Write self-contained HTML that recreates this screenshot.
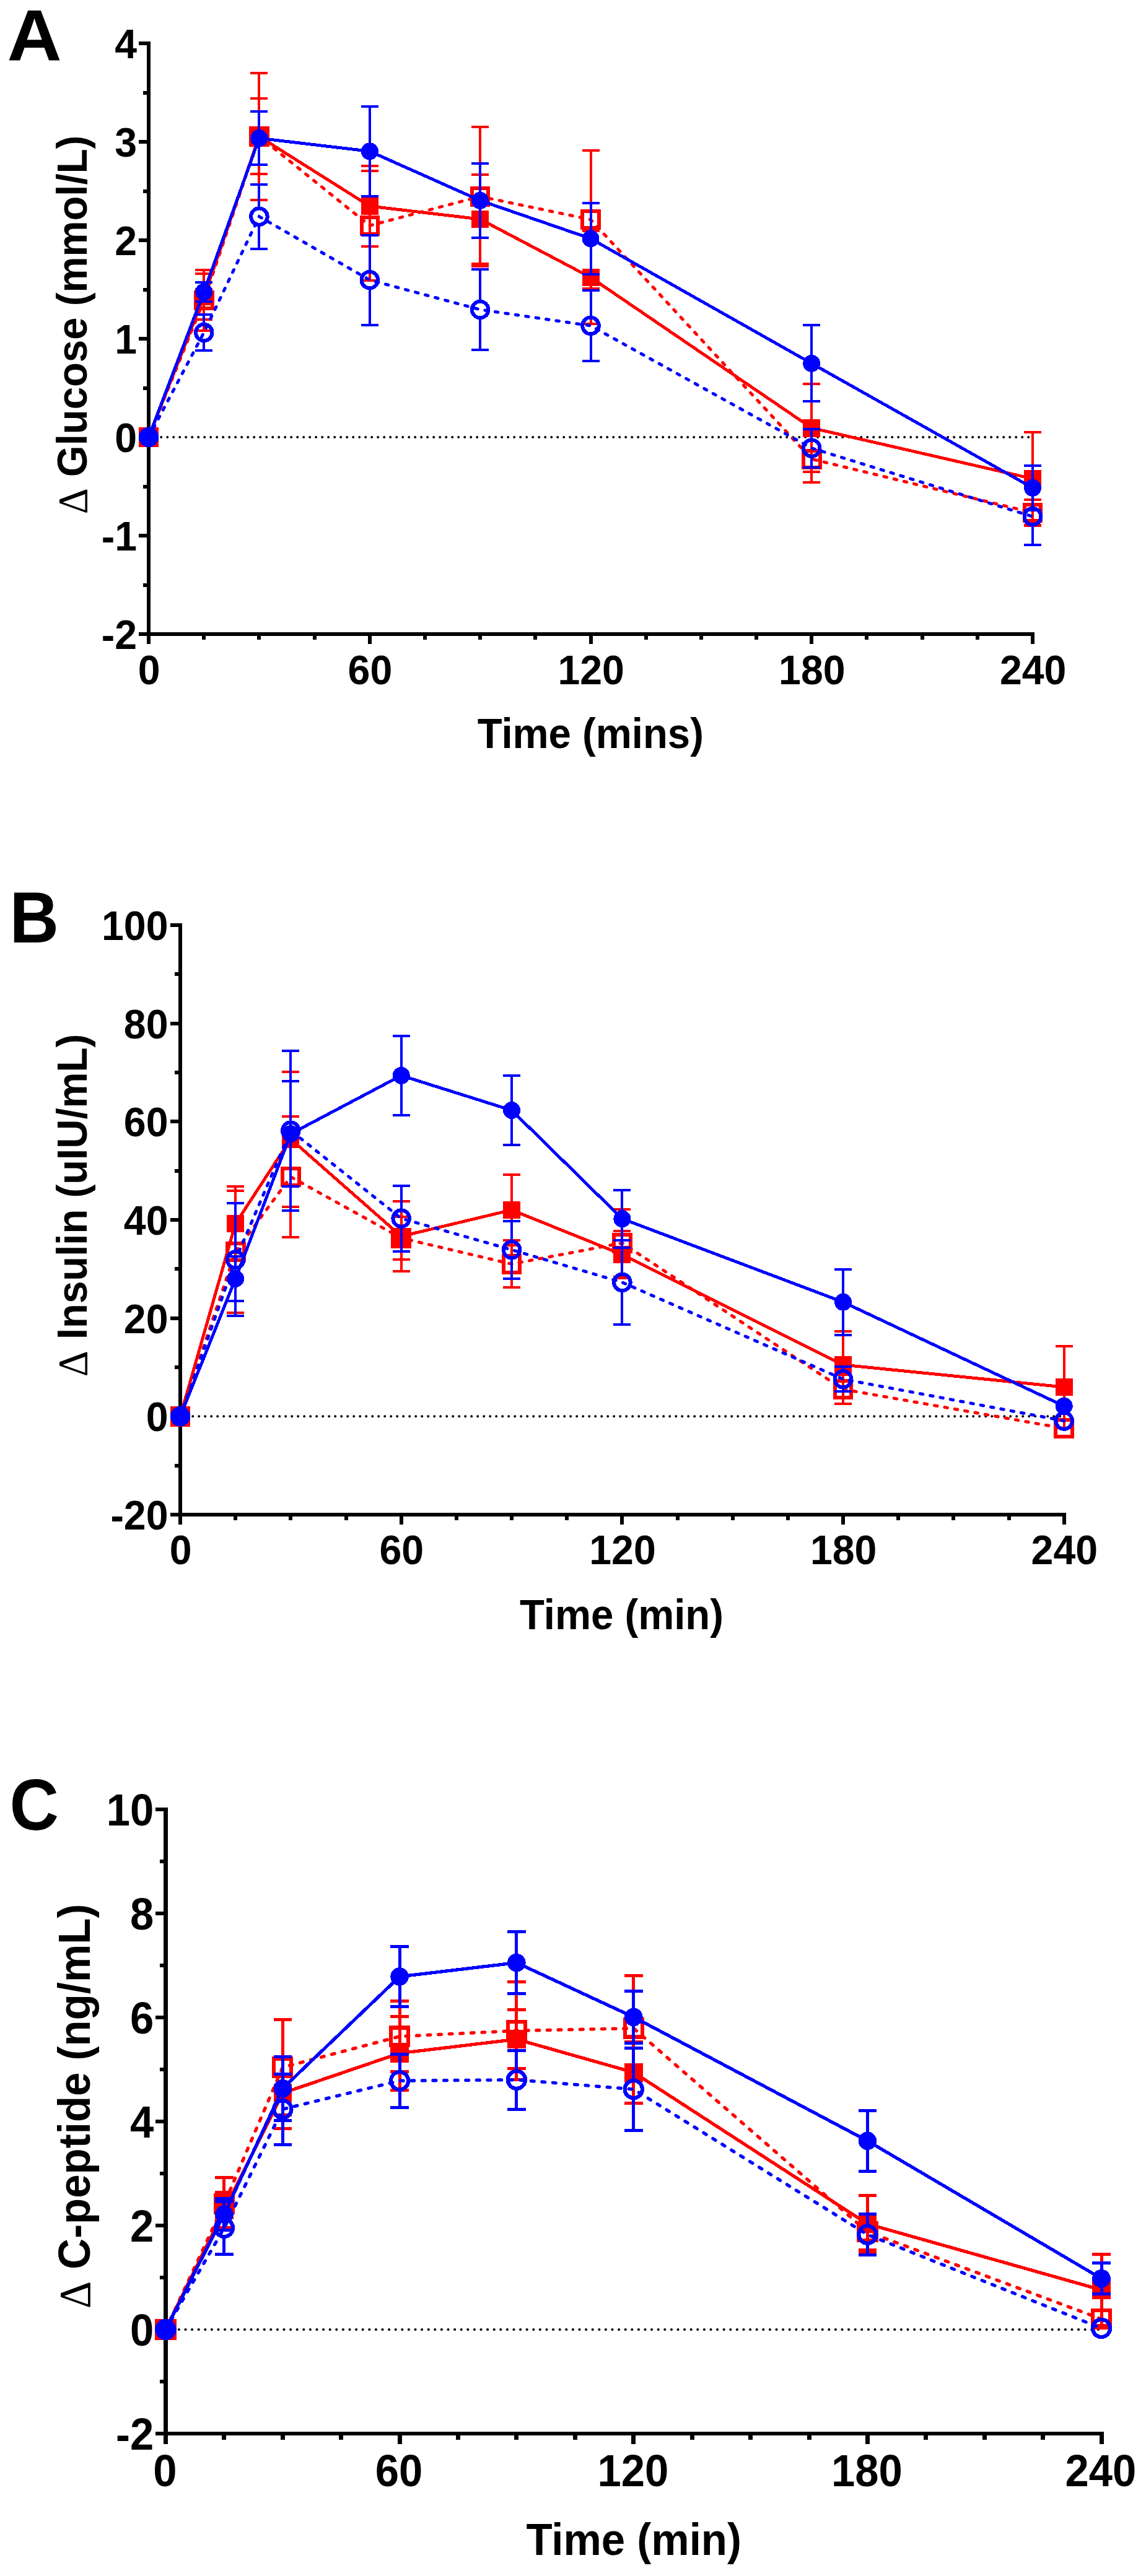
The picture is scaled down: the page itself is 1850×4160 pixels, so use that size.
<!DOCTYPE html>
<html lang="en">
<head>
<meta charset="utf-8">
<title>Glucose, insulin and C-peptide responses</title>
<style>
html,body{margin:0;padding:0;background:#fff;}
body{width:1850px;height:4160px;overflow:hidden;}
svg{display:block;}
.b{font-family:'Liberation Sans', Arial, Helvetica, sans-serif;font-weight:bold;fill:#000;}
.dl{font-family:'Liberation Serif', 'DejaVu Serif', serif;font-weight:normal;}
.ln{shape-rendering:crispEdges;}
.sm{shape-rendering:geometricPrecision;}
</style>
</head>
<body>
<svg width="1850" height="4160" viewBox="0 0 1850 4160" shape-rendering="crispEdges">
<rect width="1850" height="4160" fill="#fff"/>

<g id="panel-A">
<text class="b" font-size="110" transform="translate(11.4 98) scale(1.11 1.06)">A</text>
<line x1="240.2" y1="706" x2="1667" y2="706" stroke="#000" stroke-width="4" stroke-linecap="round" stroke-dasharray="0 10" class="sm"/>
<g stroke="#000" fill="none" stroke-linecap="butt">
<path stroke-width="6" d="M240 67V1040M329.2 1024V1033M418.4 1024V1033M507.6 1024V1033M596.8 1024V1040M685.9 1024V1033M775.1 1024V1033M864.3 1024V1033M953.5 1024V1040M1042.7 1024V1033M1131.9 1024V1033M1221.1 1024V1033M1310.2 1024V1040M1399.4 1024V1033M1488.6 1024V1033M1577.8 1024V1033M1667 1024V1040"/>
<path stroke-width="6" d="M224 1024H1670M224 865H240M224 706H240M224 547H240M224 388H240M224 229H240M224 70H240M231 944.5H240M231 785.5H240M231 626.5H240M231 467.5H240M231 308.5H240M231 149.5H240"/>
</g>
<g class="b" font-size="64.4">
<text text-anchor="end" transform="translate(221 1048) scale(1 1.04)">-2</text>
<text text-anchor="end" transform="translate(221 889) scale(1 1.04)">-1</text>
<text text-anchor="end" transform="translate(221 730) scale(1 1.04)">0</text>
<text text-anchor="end" transform="translate(221 571) scale(1 1.04)">1</text>
<text text-anchor="end" transform="translate(221 412) scale(1 1.04)">2</text>
<text text-anchor="end" transform="translate(221 253) scale(1 1.04)">3</text>
<text text-anchor="end" transform="translate(221 94) scale(1 1.04)">4</text>
<text text-anchor="middle" transform="translate(240.6 1104.5) scale(1 1.04)">0</text>
<text text-anchor="middle" transform="translate(597.4 1104.5) scale(1 1.04)">60</text>
<text text-anchor="middle" transform="translate(954.1 1104.5) scale(1 1.04)">120</text>
<text text-anchor="middle" transform="translate(1310.8 1104.5) scale(1 1.04)">180</text>
<text text-anchor="middle" transform="translate(1667.6 1104.5) scale(1 1.04)">240</text>
</g>
<text class="b" font-size="65.3" text-anchor="middle" transform="translate(953.3 1207.8) scale(1 1.04)">Time (mins)</text>
<text class="b" font-size="65.3" text-anchor="middle" transform="translate(139.6 524.5) rotate(-90) scale(1 1.04)"><tspan class="dl">Δ</tspan> Glucose (mmol/L)</text>
<g id="A-R1" stroke="#ff0000" fill="none">
<path stroke-width="4" d="M329.2 442.3V515.7M315.2 442.3H343.2M315.2 515.7H343.2M418.4 159.4V281.4M404.4 159.4H432.4M404.4 281.4H432.4M596.8 268.1V397.6M582.8 268.1H610.8M582.8 397.6H610.8M775.1 281.6V426.4M761.1 281.6H789.1M761.1 426.4H789.1M953.5 373.2V522.6M939.5 373.2H967.5M939.5 522.6H967.5M1310.2 620.3V761.9M1296.2 620.3H1324.2M1296.2 761.9H1324.2M1667 698.4V847.8M1653 698.4H1681M1653 847.8H1681"/>
<polyline class="ln" stroke-width="5" points="240,706 329.2,479 418.4,220.4 596.8,332.9 775.1,354 953.5,447.9 1310.2,691.1 1667,773.1"/>
<rect x="226" y="692" width="28" height="28" fill="#ff0000" stroke="none"/>
<rect x="315.2" y="465" width="28" height="28" fill="#ff0000" stroke="none"/>
<rect x="404.4" y="206.4" width="28" height="28" fill="#ff0000" stroke="none"/>
<rect x="582.8" y="318.9" width="28" height="28" fill="#ff0000" stroke="none"/>
<rect x="761.1" y="340" width="28" height="28" fill="#ff0000" stroke="none"/>
<rect x="939.5" y="433.9" width="28" height="28" fill="#ff0000" stroke="none"/>
<rect x="1296.2" y="677.1" width="28" height="28" fill="#ff0000" stroke="none"/>
<rect x="1653" y="759.1" width="28" height="28" fill="#ff0000" stroke="none"/>
</g>
<g id="A-R2" stroke="#ff0000" fill="none">
<path stroke-width="4" d="M329.2 435.9V471.7M329.2 498.3V534.1M315.2 435.9H343.2M315.2 534.1H343.2M418.4 117.9V207.1M418.4 233.7V322.9M404.4 117.9H432.4M404.4 322.9H432.4M596.8 275.6V351M596.8 377.6V453.1M582.8 275.6H610.8M582.8 453.1H610.8M775.1 205.1V304M775.1 330.6V429.5M761.1 205.1H789.1M761.1 429.5H789.1M953.5 242.9V341.3M953.5 367.9V466.3M939.5 242.9H967.5M939.5 466.3H967.5M1310.2 704.1V728M1310.2 754.6V778.5M1296.2 704.1H1324.2M1296.2 778.5H1324.2M1667 806.9V814.5M1667 841V848.6M1653 806.9H1681M1653 848.6H1681"/>
<polyline class="sm" stroke-width="5" stroke-linecap="round" stroke-dasharray="4.6 12" points="240,706 329.2,485 418.4,220.4 596.8,364.3 775.1,317.3 953.5,354.6 1310.2,741.3 1667,827.8"/>
<rect x="226.7" y="692.7" width="26.6" height="26.6" stroke-width="6"/>
<rect x="315.9" y="471.7" width="26.6" height="26.6" stroke-width="6"/>
<rect x="405.1" y="207.1" width="26.6" height="26.6" stroke-width="6"/>
<rect x="583.5" y="351" width="26.6" height="26.6" stroke-width="6"/>
<rect x="761.8" y="304" width="26.6" height="26.6" stroke-width="6"/>
<rect x="940.2" y="341.3" width="26.6" height="26.6" stroke-width="6"/>
<rect x="1297" y="728" width="26.6" height="26.6" stroke-width="6"/>
<rect x="1653.7" y="814.5" width="26.6" height="26.6" stroke-width="6"/>
</g>
<g id="A-B1" stroke="#0000ff" fill="none">
<path stroke-width="4" d="M329.2 455.9V486.9M315.2 455.9H343.2M315.2 486.9H343.2M418.4 180V266.4M404.4 180H432.4M404.4 266.4H432.4M596.8 171.9V316.7M582.8 171.9H610.8M582.8 316.7H610.8M775.1 264V383.6M761.1 264H789.1M761.1 383.6H789.1M953.5 327.5V443.1M939.5 327.5H967.5M939.5 443.1H967.5M1310.2 525.4V648.4M1296.2 525.4H1324.2M1296.2 648.4H1324.2M1667 751.9V823.6M1653 751.9H1681M1653 823.6H1681"/>
<polyline class="ln" stroke-width="5" points="240,706 329.2,471.4 418.4,223.2 596.8,244.3 775.1,323.8 953.5,385.3 1310.2,586.9 1667,787.8"/>
<circle class="ln" cx="240" cy="706" r="14" fill="#0000ff" stroke="none"/>
<circle class="ln" cx="329.2" cy="471.4" r="14" fill="#0000ff" stroke="none"/>
<circle class="ln" cx="418.4" cy="223.2" r="14" fill="#0000ff" stroke="none"/>
<circle class="ln" cx="596.8" cy="244.3" r="14" fill="#0000ff" stroke="none"/>
<circle class="ln" cx="775.1" cy="323.8" r="14" fill="#0000ff" stroke="none"/>
<circle class="ln" cx="953.5" cy="385.3" r="14" fill="#0000ff" stroke="none"/>
<circle class="ln" cx="1310.2" cy="586.9" r="14" fill="#0000ff" stroke="none"/>
<circle class="ln" cx="1667" cy="787.8" r="14" fill="#0000ff" stroke="none"/>
</g>
<g id="A-B2" stroke="#0000ff" fill="none">
<path stroke-width="4" d="M329.2 507.6V523.7M329.2 550.3V566.4M315.2 507.6H343.2M315.2 566.4H343.2M418.4 297.9V336.4M418.4 363V401.5M404.4 297.9H432.4M404.4 401.5H432.4M596.8 379.7V438.8M596.8 465.4V524.5M582.8 379.7H610.8M582.8 524.5H610.8M775.1 435.2V486.7M775.1 513.3V564.8M761.1 435.2H789.1M761.1 564.8H789.1M953.5 468.9V512.7M953.5 539.3V583.1M939.5 468.9H967.5M939.5 583.1H967.5M1310.2 692.8V710.4M1310.2 737V754.7M1296.2 692.8H1324.2M1296.2 754.7H1324.2M1667 788.5V820.9M1667 847.5V879.9M1653 788.5H1681M1653 879.9H1681"/>
<polyline class="sm" stroke-width="5" stroke-linecap="round" stroke-dasharray="4.6 12" points="240,706 329.2,537 418.4,349.7 596.8,452.1 775.1,500 953.5,526 1310.2,723.7 1667,834.2"/>
<circle class="ln" cx="240" cy="706" r="13.3" stroke-width="6"/>
<circle class="ln" cx="329.2" cy="537" r="13.3" stroke-width="6"/>
<circle class="ln" cx="418.4" cy="349.7" r="13.3" stroke-width="6"/>
<circle class="ln" cx="596.8" cy="452.1" r="13.3" stroke-width="6"/>
<circle class="ln" cx="775.1" cy="500" r="13.3" stroke-width="6"/>
<circle class="ln" cx="953.5" cy="526" r="13.3" stroke-width="6"/>
<circle class="ln" cx="1310.2" cy="723.7" r="13.3" stroke-width="6"/>
<circle class="ln" cx="1667" cy="834.2" r="13.3" stroke-width="6"/>
</g>
</g>
<g id="panel-B">
<text class="b" font-size="110" transform="translate(15.5 1521.6) scale(1 1.06)">B</text>
<line x1="291.2" y1="2287.3" x2="1717.7" y2="2287.3" stroke="#000" stroke-width="4" stroke-linecap="round" stroke-dasharray="0 10" class="sm"/>
<g stroke="#000" fill="none" stroke-linecap="butt">
<path stroke-width="6" d="M291 1490.8V2462M380.2 2446V2455M469.3 2446V2455M558.5 2446V2455M647.7 2446V2462M736.8 2446V2455M826 2446V2455M915.2 2446V2455M1004.4 2446V2462M1093.5 2446V2455M1182.7 2446V2455M1271.9 2446V2455M1361 2446V2462M1450.2 2446V2455M1539.4 2446V2455M1628.5 2446V2455M1717.7 2446V2462"/>
<path stroke-width="6" d="M275 2446H1720.7M275 2287.3H291M275 2128.6H291M275 1969.9H291M275 1811.2H291M275 1652.5H291M275 1493.8H291M282 2366.7H291M282 2208H291M282 2049.2H291M282 1890.6H291M282 1731.9H291M282 1573.2H291"/>
</g>
<g class="b" font-size="64.4">
<text text-anchor="end" transform="translate(271.5 2470) scale(1 1.04)">-20</text>
<text text-anchor="end" transform="translate(271.5 2311.3) scale(1 1.04)">0</text>
<text text-anchor="end" transform="translate(271.5 2152.6) scale(1 1.04)">20</text>
<text text-anchor="end" transform="translate(271.5 1993.9) scale(1 1.04)">40</text>
<text text-anchor="end" transform="translate(271.5 1835.2) scale(1 1.04)">60</text>
<text text-anchor="end" transform="translate(271.5 1676.5) scale(1 1.04)">80</text>
<text text-anchor="end" transform="translate(271.5 1517.8) scale(1 1.04)">100</text>
<text text-anchor="middle" transform="translate(291.6 2526.3) scale(1 1.04)">0</text>
<text text-anchor="middle" transform="translate(648.3 2526.3) scale(1 1.04)">60</text>
<text text-anchor="middle" transform="translate(1005 2526.3) scale(1 1.04)">120</text>
<text text-anchor="middle" transform="translate(1361.6 2526.3) scale(1 1.04)">180</text>
<text text-anchor="middle" transform="translate(1718.3 2526.3) scale(1 1.04)">240</text>
</g>
<text class="b" font-size="65.3" text-anchor="middle" transform="translate(1003.5 2630.7) scale(1 1.04)">Time (min)</text>
<text class="b" font-size="65.3" text-anchor="middle" transform="translate(140 1946.5) rotate(-90) scale(1 1.04)"><tspan class="dl">Δ</tspan> Insulin (uIU/mL)</text>
<g id="B-R1" stroke="#ff0000" fill="none">
<path stroke-width="4" d="M380.2 1915.9V2036.1M366.2 1915.9H394.2M366.2 2036.1H394.2M469.3 1730.5V1948.5M455.3 1730.5H483.3M455.3 1948.5H483.3M647.7 1940V2053M633.7 1940H661.7M633.7 2053H661.7M826 1897V2011M812 1897H840M812 2011H840M1004.4 1987.9V2063.9M990.4 1987.9H1018.4M990.4 2063.9H1018.4M1361 2150V2258.2M1347 2150H1375M1347 2258.2H1375M1717.7 2174V2306M1703.7 2174H1731.7M1703.7 2306H1731.7"/>
<polyline class="ln" stroke-width="5" points="291,2287.3 380.2,1976 469.3,1839.5 647.7,1996.5 826,1954 1004.4,2025.9 1361,2204.1 1717.7,2240"/>
<rect x="277" y="2273.3" width="28" height="28" fill="#ff0000" stroke="none"/>
<rect x="366.2" y="1962" width="28" height="28" fill="#ff0000" stroke="none"/>
<rect x="455.3" y="1825.5" width="28" height="28" fill="#ff0000" stroke="none"/>
<rect x="633.7" y="1982.5" width="28" height="28" fill="#ff0000" stroke="none"/>
<rect x="812" y="1940" width="28" height="28" fill="#ff0000" stroke="none"/>
<rect x="990.4" y="2011.9" width="28" height="28" fill="#ff0000" stroke="none"/>
<rect x="1347" y="2190.1" width="28" height="28" fill="#ff0000" stroke="none"/>
<rect x="1703.7" y="2226" width="28" height="28" fill="#ff0000" stroke="none"/>
</g>
<g id="B-R2" stroke="#ff0000" fill="none">
<path stroke-width="4" d="M380.2 1923V2008.1M380.2 2034.7V2119.8M366.2 1923H394.2M366.2 2119.8H394.2M469.3 1802.8V1887.2M469.3 1913.8V1998.2M455.3 1802.8H483.3M455.3 1998.2H483.3M647.7 1964.5V1986M647.7 2012.6V2034.1M633.7 1964.5H661.7M633.7 2034.1H661.7M826 2003.4V2028M826 2054.6V2079.2M812 2003.4H840M812 2079.2H840M1004.4 1952.9V1994M1004.4 2020.6V2061.7M990.4 1952.9H1018.4M990.4 2061.7H1018.4M1361 2220.3V2230.3M1361 2256.9V2266.9M1347 2220.3H1375M1347 2266.9H1375"/>
<polyline class="sm" stroke-width="5" stroke-linecap="round" stroke-dasharray="4.6 12" points="291,2287.3 380.2,2021.4 469.3,1900.5 647.7,1999.3 826,2041.3 1004.4,2007.3 1361,2243.6 1717.7,2306.7"/>
<rect x="277.7" y="2274" width="26.6" height="26.6" stroke-width="6"/>
<rect x="366.9" y="2008.1" width="26.6" height="26.6" stroke-width="6"/>
<rect x="456" y="1887.2" width="26.6" height="26.6" stroke-width="6"/>
<rect x="634.4" y="1986" width="26.6" height="26.6" stroke-width="6"/>
<rect x="812.7" y="2028" width="26.6" height="26.6" stroke-width="6"/>
<rect x="991.1" y="1994" width="26.6" height="26.6" stroke-width="6"/>
<rect x="1347.7" y="2230.3" width="26.6" height="26.6" stroke-width="6"/>
<rect x="1704.4" y="2293.4" width="26.6" height="26.6" stroke-width="6"/>
</g>
<g id="B-B1" stroke="#0000ff" fill="none">
<path stroke-width="4" d="M380.2 2029V2101M366.2 2029H394.2M366.2 2101H394.2M469.3 1745.8V1916.4M455.3 1745.8H483.3M455.3 1916.4H483.3M647.7 1672.9V1800.9M633.7 1672.9H661.7M633.7 1800.9H661.7M826 1737V1849M812 1737H840M812 1849H840M1004.4 1921.9V2014.5M990.4 1921.9H1018.4M990.4 2014.5H1018.4M1361 2049.6V2155.8M1347 2049.6H1375M1347 2155.8H1375"/>
<polyline class="ln" stroke-width="5" points="291,2287.3 380.2,2065 469.3,1831.1 647.7,1736.9 826,1793 1004.4,1968.2 1361,2102.7 1717.7,2270.7"/>
<circle class="ln" cx="291" cy="2287.3" r="14" fill="#0000ff" stroke="none"/>
<circle class="ln" cx="380.2" cy="2065" r="14" fill="#0000ff" stroke="none"/>
<circle class="ln" cx="469.3" cy="1831.1" r="14" fill="#0000ff" stroke="none"/>
<circle class="ln" cx="647.7" cy="1736.9" r="14" fill="#0000ff" stroke="none"/>
<circle class="ln" cx="826" cy="1793" r="14" fill="#0000ff" stroke="none"/>
<circle class="ln" cx="1004.4" cy="1968.2" r="14" fill="#0000ff" stroke="none"/>
<circle class="ln" cx="1361" cy="2102.7" r="14" fill="#0000ff" stroke="none"/>
<circle class="ln" cx="1717.7" cy="2270.7" r="14" fill="#0000ff" stroke="none"/>
</g>
<g id="B-B2" stroke="#0000ff" fill="none">
<path stroke-width="4" d="M380.2 1943.4V2021.1M380.2 2047.7V2125.4M366.2 1943.4H394.2M366.2 2125.4H394.2M469.3 1696.9V1812.4M469.3 1839V1954.5M455.3 1696.9H483.3M455.3 1954.5H483.3M647.7 1914.6V1954.3M647.7 1980.9V2020.5M633.7 1914.6H661.7M633.7 2020.5H661.7M826 1971.8V2005M826 2031.6V2064.8M812 1971.8H840M812 2064.8H840M1004.4 2002.5V2057.6M1004.4 2084.2V2139.3M990.4 2002.5H1018.4M990.4 2139.3H1018.4M1361 2207.2V2213.9M1361 2240.5V2247.2M1347 2207.2H1375M1347 2247.2H1375"/>
<polyline class="sm" stroke-width="5" stroke-linecap="round" stroke-dasharray="4.6 12" points="291,2287.3 380.2,2034.4 469.3,1825.7 647.7,1967.6 826,2018.3 1004.4,2070.9 1361,2227.2 1717.7,2294.5"/>
<circle class="ln" cx="291" cy="2287.3" r="13.3" stroke-width="6"/>
<circle class="ln" cx="380.2" cy="2034.4" r="13.3" stroke-width="6"/>
<circle class="ln" cx="469.3" cy="1825.7" r="13.3" stroke-width="6"/>
<circle class="ln" cx="647.7" cy="1967.6" r="13.3" stroke-width="6"/>
<circle class="ln" cx="826" cy="2018.3" r="13.3" stroke-width="6"/>
<circle class="ln" cx="1004.4" cy="2070.9" r="13.3" stroke-width="6"/>
<circle class="ln" cx="1361" cy="2227.2" r="13.3" stroke-width="6"/>
<circle class="ln" cx="1717.7" cy="2294.5" r="13.3" stroke-width="6"/>
</g>
</g>
<g id="panel-C">
<text class="b" font-size="110" transform="translate(15.5 2955.3) scale(1 1.06)">C</text>
<line x1="267.7" y1="3762" x2="1778" y2="3762" stroke="#000" stroke-width="4.2" stroke-linecap="round" stroke-dasharray="0 10.6" class="sm"/>
<g stroke="#000" fill="none" stroke-linecap="butt">
<path stroke-width="7" d="M267.5 2919V3946.9M361.9 3930V3939.5M456.3 3930V3939.5M550.7 3930V3939.5M645.1 3930V3946.9M739.5 3930V3939.5M833.9 3930V3939.5M928.3 3930V3939.5M1022.8 3930V3946.9M1117.2 3930V3939.5M1211.6 3930V3939.5M1306 3930V3939.5M1400.4 3930V3946.9M1494.8 3930V3939.5M1589.2 3930V3939.5M1683.6 3930V3939.5M1778 3930V3946.9"/>
<path stroke-width="6" d="M250.6 3930H1781.5M250.6 3762H267.5M250.6 3594H267.5M250.6 3426H267.5M250.6 3258H267.5M250.6 3090H267.5M250.6 2922H267.5M258 3846H267.5M258 3678H267.5M258 3510H267.5M258 3342H267.5M258 3174H267.5M258 3006H267.5"/>
</g>
<g class="b" font-size="68.8">
<text text-anchor="end" transform="translate(248.2 3955.5) scale(1 1.04)">-2</text>
<text text-anchor="end" transform="translate(248.2 3787.5) scale(1 1.04)">0</text>
<text text-anchor="end" transform="translate(248.2 3619.5) scale(1 1.04)">2</text>
<text text-anchor="end" transform="translate(248.2 3451.5) scale(1 1.04)">4</text>
<text text-anchor="end" transform="translate(248.2 3283.5) scale(1 1.04)">6</text>
<text text-anchor="end" transform="translate(248.2 3115.5) scale(1 1.04)">8</text>
<text text-anchor="end" transform="translate(248.2 2947.5) scale(1 1.04)">10</text>
<text text-anchor="middle" transform="translate(266.5 4015.2) scale(1 1.04)">0</text>
<text text-anchor="middle" transform="translate(644.1 4015.2) scale(1 1.04)">60</text>
<text text-anchor="middle" transform="translate(1021.8 4015.2) scale(1 1.04)">120</text>
<text text-anchor="middle" transform="translate(1399.4 4015.2) scale(1 1.04)">180</text>
<text text-anchor="middle" transform="translate(1777 4015.2) scale(1 1.04)">240</text>
</g>
<text class="b" font-size="69" text-anchor="middle" transform="translate(1023.2 4125.5) scale(1 1.04)">Time (min)</text>
<text class="b" font-size="69" text-anchor="middle" transform="translate(145.1 3401.4) rotate(-90) scale(1 1.04)"><tspan class="dl">Δ</tspan> C-peptide (ng/mL)</text>
<g id="C-R1" stroke="#ff0000" fill="none">
<path stroke-width="5" d="M361.9 3540.7V3597.1M347.1 3540.7H376.7M347.1 3597.1H376.7M456.3 3323.1V3437.3M441.5 3323.1H471.1M441.5 3437.3H471.1M645.1 3256V3375.6M630.3 3256H659.9M630.3 3375.6H659.9M833.9 3245.9V3340.5M819.1 3245.9H848.7M819.1 3340.5H848.7M1022.8 3297V3396.4M1007.9 3297H1037.6M1007.9 3396.4H1037.6M1400.4 3545.5V3637.3M1385.6 3545.5H1415.2M1385.6 3637.3H1415.2M1778 3640.1V3755.9M1763.2 3640.1H1792.8M1763.2 3755.9H1792.8"/>
<polyline class="ln" stroke-width="5.3" points="267.5,3762 361.9,3568.9 456.3,3380.2 645.1,3315.8 833.9,3293.2 1022.8,3346.7 1400.4,3591.4 1778,3698"/>
<rect x="252.7" y="3747.2" width="29.6" height="29.6" fill="#ff0000" stroke="none"/>
<rect x="347.1" y="3554.1" width="29.6" height="29.6" fill="#ff0000" stroke="none"/>
<rect x="441.5" y="3365.4" width="29.6" height="29.6" fill="#ff0000" stroke="none"/>
<rect x="630.3" y="3301" width="29.6" height="29.6" fill="#ff0000" stroke="none"/>
<rect x="819.1" y="3278.4" width="29.6" height="29.6" fill="#ff0000" stroke="none"/>
<rect x="1007.9" y="3331.9" width="29.6" height="29.6" fill="#ff0000" stroke="none"/>
<rect x="1385.6" y="3576.6" width="29.6" height="29.6" fill="#ff0000" stroke="none"/>
<rect x="1763.2" y="3683.2" width="29.6" height="29.6" fill="#ff0000" stroke="none"/>
</g>
<g id="C-R2" stroke="#ff0000" fill="none">
<path stroke-width="5" d="M361.9 3516.6V3544.9M361.9 3573.1V3601.4M347.1 3516.6H376.7M347.1 3601.4H376.7M456.3 3261.4V3324.4M456.3 3352.6V3415.6M441.5 3261.4H471.1M441.5 3415.6H471.1M645.1 3231.8V3274.5M645.1 3302.7V3345.4M630.3 3231.8H659.9M630.3 3345.4H659.9M833.9 3200.4V3265.3M833.9 3293.5V3358.4M819.1 3200.4H848.7M819.1 3358.4H848.7M1022.8 3190.4V3261.4M1022.8 3289.6V3360.6M1007.9 3190.4H1037.6M1007.9 3360.6H1037.6M1400.4 3575.2V3590.1M1400.4 3618.3V3633.2M1385.6 3575.2H1415.2M1385.6 3633.2H1415.2"/>
<polyline class="sm" stroke-width="5.3" stroke-linecap="round" stroke-dasharray="4.9 12.7" points="267.5,3762 361.9,3559 456.3,3338.5 645.1,3288.6 833.9,3279.4 1022.8,3275.5 1400.4,3604.2 1778,3745"/>
<rect x="253.4" y="3747.9" width="28.1" height="28.1" stroke-width="6.3"/>
<rect x="347.8" y="3544.9" width="28.1" height="28.1" stroke-width="6.3"/>
<rect x="442.2" y="3324.4" width="28.1" height="28.1" stroke-width="6.3"/>
<rect x="631.1" y="3274.5" width="28.1" height="28.1" stroke-width="6.3"/>
<rect x="819.9" y="3265.3" width="28.1" height="28.1" stroke-width="6.3"/>
<rect x="1008.7" y="3261.4" width="28.1" height="28.1" stroke-width="6.3"/>
<rect x="1386.3" y="3590.1" width="28.1" height="28.1" stroke-width="6.3"/>
<rect x="1763.9" y="3730.9" width="28.1" height="28.1" stroke-width="6.3"/>
</g>
<g id="C-B1" stroke="#0000ff" fill="none">
<path stroke-width="5" d="M361.9 3550.2V3601.6M347.1 3550.2H376.7M347.1 3601.6H376.7M456.3 3321V3424.4M441.5 3321H471.1M441.5 3424.4H471.1M645.1 3143.3V3240.7M630.3 3143.3H659.9M630.3 3240.7H659.9M833.9 3119.8V3219.3M819.1 3119.8H848.7M819.1 3219.3H848.7M1022.8 3215V3299.8M1007.9 3215H1037.6M1007.9 3299.8H1037.6M1400.4 3408.5V3506.2M1385.6 3408.5H1415.2M1385.6 3506.2H1415.2M1778 3654.5V3704.7M1763.2 3654.5H1792.8M1763.2 3704.7H1792.8"/>
<polyline class="ln" stroke-width="5.3" points="267.5,3762 361.9,3575.9 456.3,3372.7 645.1,3192 833.9,3169.6 1022.8,3257.4 1400.4,3457.3 1778,3679.6"/>
<circle class="ln" cx="267.5" cy="3762" r="14.8" fill="#0000ff" stroke="none"/>
<circle class="ln" cx="361.9" cy="3575.9" r="14.8" fill="#0000ff" stroke="none"/>
<circle class="ln" cx="456.3" cy="3372.7" r="14.8" fill="#0000ff" stroke="none"/>
<circle class="ln" cx="645.1" cy="3192" r="14.8" fill="#0000ff" stroke="none"/>
<circle class="ln" cx="833.9" cy="3169.6" r="14.8" fill="#0000ff" stroke="none"/>
<circle class="ln" cx="1022.8" cy="3257.4" r="14.8" fill="#0000ff" stroke="none"/>
<circle class="ln" cx="1400.4" cy="3457.3" r="14.8" fill="#0000ff" stroke="none"/>
<circle class="ln" cx="1778" cy="3679.6" r="14.8" fill="#0000ff" stroke="none"/>
</g>
<g id="C-B2" stroke="#0000ff" fill="none">
<path stroke-width="5" d="M361.9 3555.8V3583.8M361.9 3612V3640M347.1 3555.8H376.7M347.1 3640H376.7M456.3 3349.4V3392.1M456.3 3420.3V3463M441.5 3349.4H471.1M441.5 3463H471.1M645.1 3317.2V3346.1M645.1 3374.3V3403.2M630.3 3317.2H659.9M630.3 3403.2H659.9M833.9 3311.1V3344.6M833.9 3372.8V3406.3M819.1 3311.1H848.7M819.1 3406.3H848.7M1022.8 3307.5V3359.9M1022.8 3388.1V3440.5M1007.9 3307.5H1037.6M1007.9 3440.5H1037.6M1400.4 3575.8V3594.6M1400.4 3622.8V3641.6M1385.6 3575.8H1415.2M1385.6 3641.6H1415.2"/>
<polyline class="sm" stroke-width="5.3" stroke-linecap="round" stroke-dasharray="4.9 12.7" points="267.5,3762 361.9,3597.9 456.3,3406.2 645.1,3360.2 833.9,3358.7 1022.8,3374 1400.4,3608.7 1778,3759.9"/>
<circle class="ln" cx="267.5" cy="3762" r="14.1" stroke-width="6.3"/>
<circle class="ln" cx="361.9" cy="3597.9" r="14.1" stroke-width="6.3"/>
<circle class="ln" cx="456.3" cy="3406.2" r="14.1" stroke-width="6.3"/>
<circle class="ln" cx="645.1" cy="3360.2" r="14.1" stroke-width="6.3"/>
<circle class="ln" cx="833.9" cy="3358.7" r="14.1" stroke-width="6.3"/>
<circle class="ln" cx="1022.8" cy="3374" r="14.1" stroke-width="6.3"/>
<circle class="ln" cx="1400.4" cy="3608.7" r="14.1" stroke-width="6.3"/>
<circle class="ln" cx="1778" cy="3759.9" r="14.1" stroke-width="6.3"/>
</g>
</g>
</svg>
</body>
</html>
